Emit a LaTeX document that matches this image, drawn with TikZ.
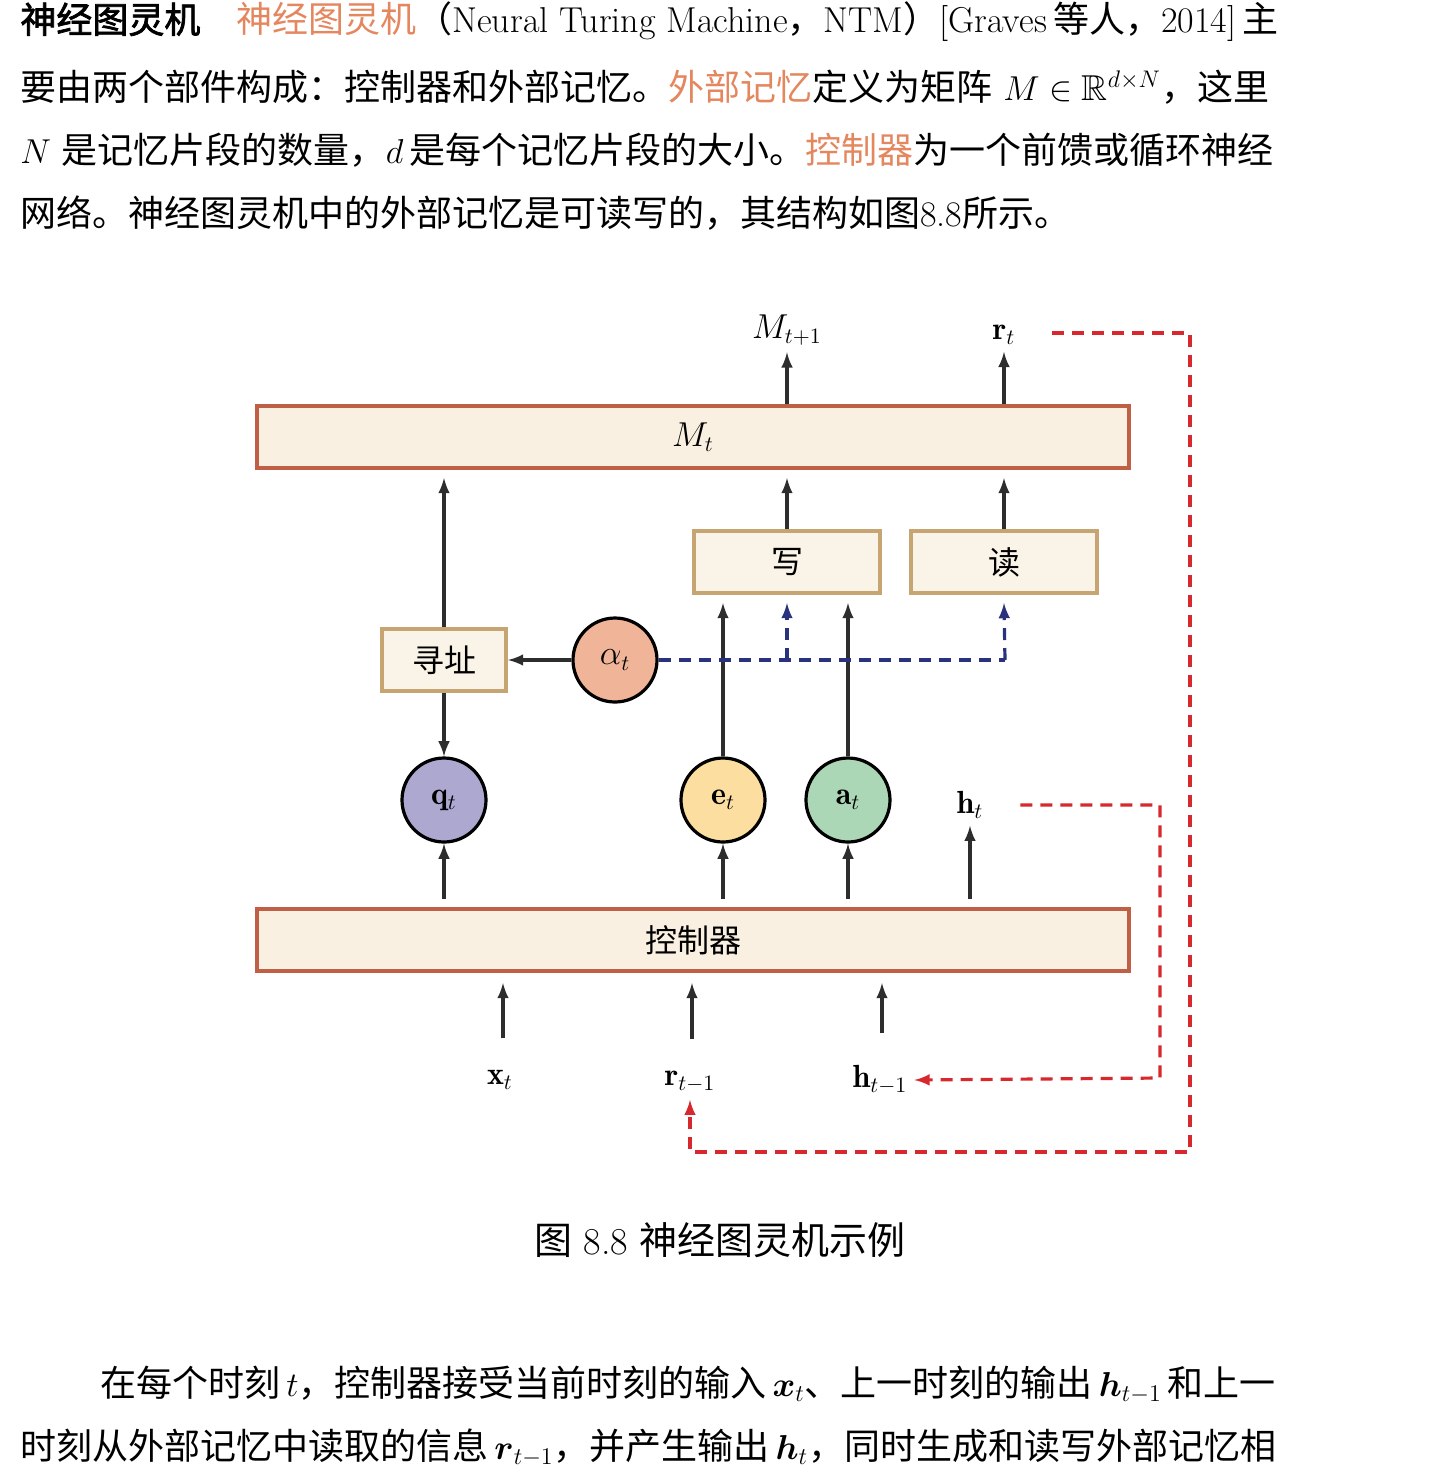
\documentclass[tikz,border=0pt]{standalone}
\usepackage{amsmath}
\usepackage{amssymb}
\usepackage{fontspec}
\usetikzlibrary{calc}
\newfontfamily\cjk{Noto Sans CJK SC}
\newfontfamily\cjkb{Noto Sans CJK SC}[FakeBold=2]
\newcommand\zh[1]{{\cjk #1}}
\definecolor{hl}{RGB}{228,135,95}
\definecolor{bred}{RGB}{190,95,70}
\definecolor{btan}{RGB}{198,165,115}
\definecolor{cream}{RGB}{250,240,226}
\definecolor{cream2}{RGB}{250,244,232}
\definecolor{dblue}{RGB}{40,50,125}
\definecolor{dred}{RGB}{215,40,45}
\definecolor{cq}{RGB}{172,168,208}
\definecolor{ce}{RGB}{252,222,160}
\definecolor{ca}{RGB}{172,215,182}
\definecolor{cal}{RGB}{240,180,152}
\definecolor{ink}{RGB}{45,45,45}
\begin{document}
\begin{tikzpicture}[x=0.5pt,y=-0.5pt,
 txt/.style={anchor=west,inner sep=0,font=\fontsize{18}{20}\selectfont},
 bigbox/.style={draw=bred,line width=2pt,fill=cream,minimum width=436pt,minimum height=31pt,font=\fontsize{16}{18}\selectfont},
 smbox/.style={draw=btan,line width=2pt,fill=cream2,minimum height=31pt,font=\fontsize{16}{18}\selectfont\cjk},
 circ/.style={circle,draw=black,line width=1.6pt,minimum size=42pt,inner sep=0,font=\fontsize{16}{18}\selectfont},
 lab/.style={font=\fontsize{16}{18}\selectfont},
 arr/.style={-latex,line width=1.6pt,ink},
 bdash/.style={line width=1.6pt,dblue,dash pattern=on 6pt off 4pt},
 rdash/.style={line width=1.6pt,dred,dash pattern=on 6pt off 4pt}]
\useasboundingbox (0,0) rectangle (1442,1480);
% text paragraph
\node[txt] (l1) at (20,22) {{\cjkb 神经图灵机}\quad\textcolor{hl}{\zh{神经图灵机}}\zh{（}Neural Turing Machine\zh{，}NTM\zh{）}[Graves\,\zh{等人，}2014]\,\zh{主}};
\node[txt] (l2) at (20,87) {\zh{要由两个部件构成：控制器和外部记忆。}\textcolor{hl}{\zh{外部记忆}}\zh{定义为矩阵}\ $M\in\mathbb{R}^{d\times N}$\zh{，这里}};
\node[txt] (l3) at (20,150) {$N$\ \zh{是记忆片段的数量，}$d$\,\zh{是每个记忆片段的大小。}\textcolor{hl}{\zh{控制器}}\zh{为一个前馈或循环神经}};
\node[txt] (l4) at (20,213) {\zh{网络。神经图灵机中的外部记忆是可读写的，其结构如图}8.8\zh{所示。}};
% diagram
\node[bigbox] (M) at (693,437) {$M_t$};
\node[bigbox] (C) at (693,940) {\zh{控制器}};
\node[smbox,minimum width=93pt] (W) at (787,562) {写};
\node[smbox,minimum width=93pt] (R) at (1004,562) {读};
\node[smbox,minimum width=62pt] (A) at (444,660) {寻址};
\node[circ,fill=cal] (al) at (615,660) {$\alpha_t$};
\node[circ,fill=cq] (q) at (444,800) {$\mathbf{q}_t$};
\node[circ,fill=ce] (e) at (723,800) {$\mathbf{e}_t$};
\node[circ,fill=ca] (a) at (848,800) {$\mathbf{a}_t$};
\node[lab] (h) at (970,805) {$\mathbf{h}_t$};
\node[lab] (Mn) at (787,330) {$M_{t+1}$};
\node[lab] (r) at (1004,335) {$\mathbf{r}_t$};
\node[lab] (x) at (500,1080) {$\mathbf{x}_t$};
\node[lab] (rp) at (690,1082) {$\mathbf{r}_{t-1}$};
\node[lab] (hp) at (880,1080) {$\mathbf{h}_{t-1}$};
\coordinate (c1) at (1190,333); \coordinate (c2) at (1190,1152); \coordinate (c3) at (690,1152);
\coordinate (d1) at (1160,805); \coordinate (d2) at (1160,1078);
% arrows
\draw[arr] (M.north-|Mn) -- (Mn.south);
\draw[arr] (M.north-|r) -- (r.south);
\draw[arr] (A.north) -- ($(A.north|-M.south)+(0,8)$);
\draw[arr] (W.north) -- ($(W.north|-M.south)+(0,8)$);
\draw[arr] (R.north) -- ($(R.north|-M.south)+(0,8)$);
\draw[arr] (al) -- (A);
\draw[arr] (A) -- (q);
\draw[arr] (e) -- ($(e|-W.south)+(0,8)$);
\draw[arr] (a) -- ($(a|-W.south)+(0,8)$);
\draw[bdash] (al) -- (1005,660);
\draw[bdash,-latex] (1005,660) -- ($(R.south)+(0,8)$);
\draw[bdash,-latex] (787,660) -- ($(W.south)+(0,8)$);
\draw[arr] ($(C.north-|q)+(0,-8)$) -- (q);
\draw[arr] ($(C.north-|e)+(0,-8)$) -- (e);
\draw[arr] ($(C.north-|a)+(0,-8)$) -- (a);
\draw[arr] ($(C.north-|h)+(0,-8)$) -- (h);
\draw[arr] ($(x.north)+(3,-25)$) -- ($(C.south-|x)+(3,10)$);
\draw[arr] ($(rp.north)+(2,-25)$) -- ($(C.south-|rp)+(2,10)$);
\draw[arr] ($(hp.north)+(2,-25)$) -- ($(C.south-|hp)+(2,10)$);
\draw[rdash,-latex] ($(r.east)+(30,-2)$) -- (c1) -- (c2) -- (c3) -- (rp.south);
\draw[rdash,-latex] ($(h.east)+(30,0)$) -- (d1) -- (d2) -- (hp.east);
% caption
\node[lab,font=\fontsize{19}{20}\selectfont] (cap) at (720,1240) {\zh{图}\ 8.8\ \zh{神经图灵机示例}};
\node[txt] (b1) at (100,1385) {\zh{在每个时刻}\,$t$\zh{，控制器接受当前时刻的输入}\,$\boldsymbol{x}_t$\zh{、上一时刻的输出}\,$\boldsymbol{h}_{t-1}$\,\zh{和上一}};
\node[txt] (b2) at (20,1448) {\zh{时刻从外部记忆中读取的信息}\,$\boldsymbol{r}_{t-1}$\zh{，并产生输出}\,$\boldsymbol{h}_t$\zh{，同时生成和读写外部记忆相}};
\end{tikzpicture}
\end{document}
